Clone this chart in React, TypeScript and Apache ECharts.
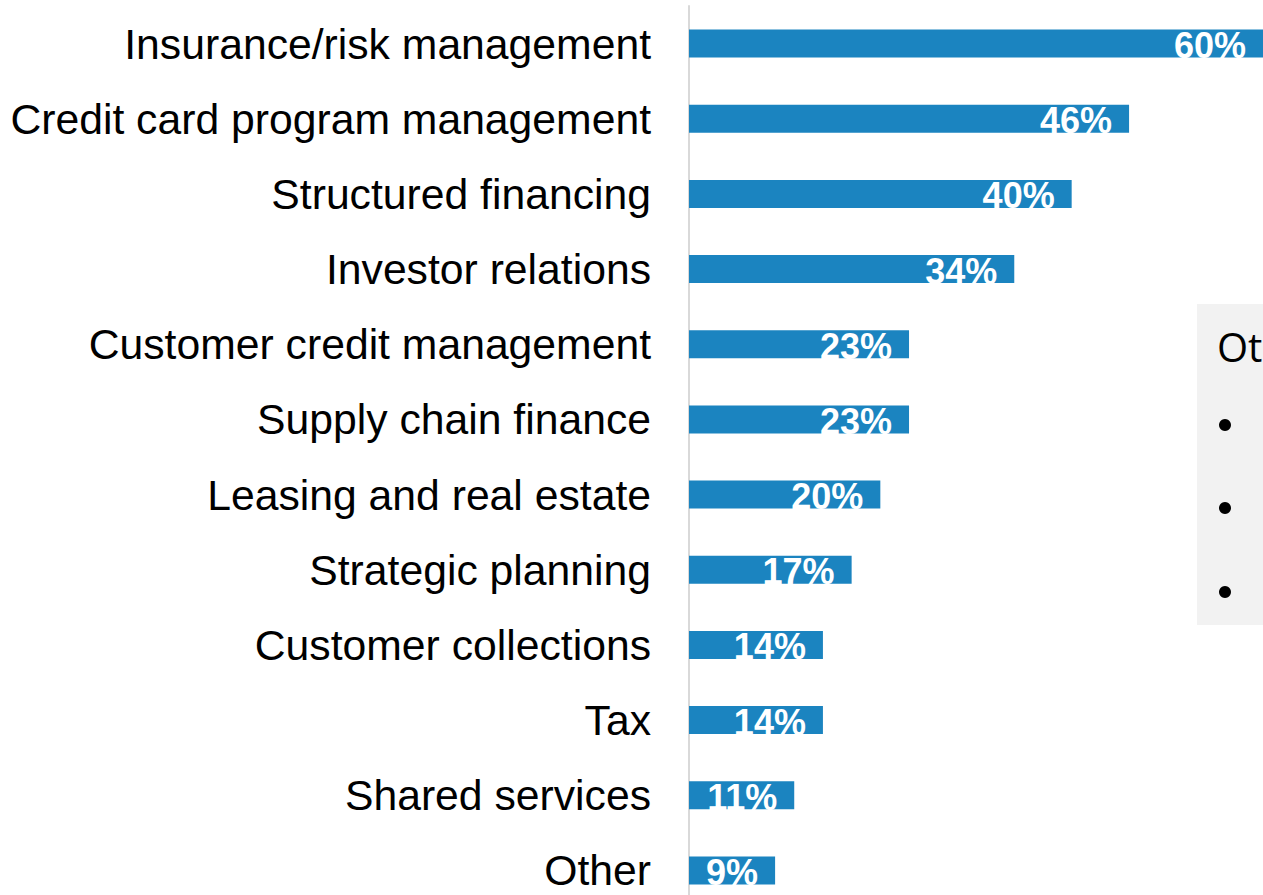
import React, { useEffect, useRef } from "react";
import * as echarts from "echarts";

const categories = [
  "Insurance/risk management",
  "Credit card program management",
  "Structured financing",
  "Investor relations",
  "Customer credit management",
  "Supply chain finance",
  "Leasing and real estate",
  "Strategic planning",
  "Customer collections",
  "Tax",
  "Shared services",
  "Other",
];
const values = [60, 46, 40, 34, 23, 23, 20, 17, 14, 14, 11, 9];
const boxTitle = "Ot";

export default function App() {
  const ref = useRef<HTMLDivElement>(null);
  useEffect(() => {
    if (!ref.current) return;
    const chart = echarts.init(ref.current, null, { renderer: "svg" });
    chart.setOption({
      animation: false,
      grid: { left: 689, top: 6, width: 576, height: 902, containLabel: false },
      xAxis: {
        type: "value",
        min: 0,
        max: 60,
        show: false,
      },
      yAxis: {
        type: "category",
        inverse: true,
        data: categories,
        axisLine: { show: true, lineStyle: { color: "#d9d9d9", width: 2 } },
        axisTick: { show: false },
        axisLabel: {
          margin: 38,
          fontSize: 42.7,
          color: "#000000",
          fontFamily: "Liberation Sans, Arial, sans-serif",
        },
      },
      graphic: [
        {
          type: "rect",
          shape: { x: 1197, y: 304, width: 80, height: 321 },
          style: { fill: "#f2f2f2" },
          z: 0,
        },
        {
          type: "text",
          x: 1217,
          y: 346,
          style: {
            text: boxTitle,
            fontSize: 40,
            fontFamily: "Open Sans, Noto Sans, sans-serif",
            fill: "#000000",
            verticalAlign: "middle",
          },
        },
        { type: "circle", shape: { cx: 1225, cy: 425, r: 6 }, style: { fill: "#000000" } },
        { type: "circle", shape: { cx: 1225, cy: 508, r: 6 }, style: { fill: "#000000" } },
        { type: "circle", shape: { cx: 1225, cy: 592, r: 6 }, style: { fill: "#000000" } },
      ],
      series: [
        {
          type: "bar",
          data: values,
          barWidth: 28,
          clip: false,
          itemStyle: { color: "#1b84c0" },
          label: {
            show: true,
            position: "insideRight",
            distance: 17,
            offset: [0, 2],
            formatter: "{c}%",
            color: "#ffffff",
            fontWeight: "bold",
            fontSize: 36,
            fontFamily: "Liberation Sans, Arial, sans-serif",
          },
        },
      ],
    });
    return () => chart.dispose();
  }, []);
  return (
    <div style={{ position: "absolute", left: 0, top: 0, width: 1263, height: 895, overflow: "hidden", background: "#ffffff" }}>
      <div ref={ref} style={{ width: 1263, height: 915 }} />
    </div>
  );
}
